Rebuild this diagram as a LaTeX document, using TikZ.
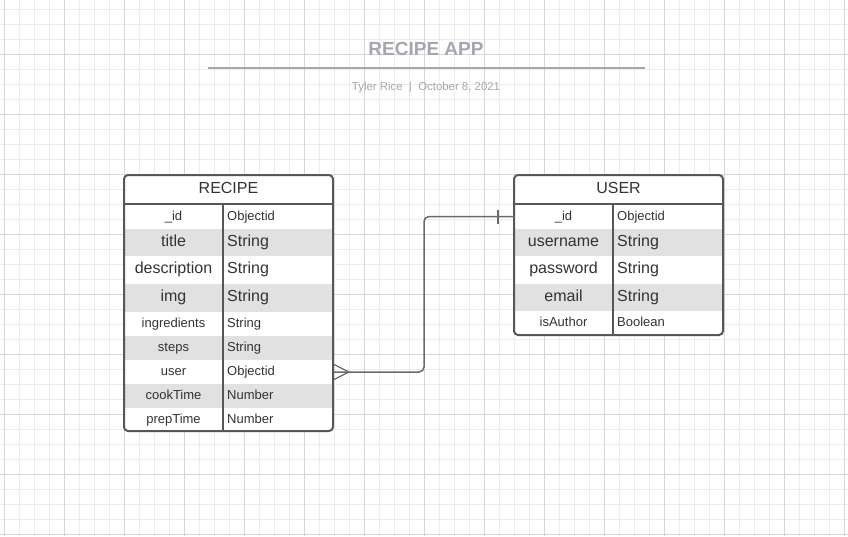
\documentclass[tikz,border=0pt]{standalone}
\usepackage{fontspec}
\setmainfont{Liberation Sans}
\usetikzlibrary{positioning, calc}
\definecolor{gridminor}{HTML}{ECECEC}
\definecolor{gridmajor}{HTML}{D6D6D6}
\definecolor{rowgray}{HTML}{E1E1E1}
\definecolor{tblborder}{HTML}{575757}
\definecolor{tbltext}{HTML}{333333}
\definecolor{headgray}{HTML}{A3A7B0}
\definecolor{conngray}{HTML}{6A6A6A}

\begin{document}
\begin{tikzpicture}[x=1pt, y=-1pt,
  tbl/.style={draw=tblborder, line width=2pt, rounded corners=4pt},
  tblline/.style={draw=tblborder, line width=2pt},
  rowcell/.style={draw=none, inner sep=0pt, outer sep=0pt},
  fieldtext/.style={text=tbltext, inner sep=0pt, text height=.72em, text depth=0pt},
  conn/.style={draw=conngray, line width=1.5pt},
  crow/.style={draw=conngray, line width=1.2pt}]
\useasboundingbox (0,0) rectangle (848,536);
\fill[white] (0,0) rectangle (848,536);

% grid
\foreach \x in {4,19,...,844} \draw[gridminor, line width=.8pt] (\x,0) -- (\x,536);
\foreach \y in {9,24,...,534} \draw[gridminor, line width=.8pt] (0,\y) -- (848,\y);
\foreach \x in {4,64,...,844} \draw[gridmajor, line width=.8pt] (\x,0) -- (\x,536);
\foreach \y in {54,114,...,534} \draw[gridmajor, line width=.8pt] (0,\y) -- (848,\y);

% heading
\node[text=headgray, font={\fontsize{19}{22}\selectfont\bfseries}] (title) at (426,49) {RECIPE APP};
\draw[draw=headgray, line width=1.5pt] (208,68) -- (645,68);
\node[text=headgray, font={\fontsize{11.4}{13}\selectfont}] (byline) at (426,87.5) {Tyler Rice \ | \ October 8, 2021};

% recipe table
\fill[white] (124,175) rectangle (333,204);
\foreach \fname/\ftype/\ya/\yb/\shade/\sz [count=\i] in {
  \_id/Objectid/204/229/white/13,
  title/String/229/256/rowgray/16,
  description/String/256/284/white/16,
  img/String/284/312/rowgray/16,
  ingredients/String/312/336/white/13,
  steps/String/336/360/rowgray/13,
  user/Objectid/360/384/white/13,
  cookTime/Number/384/408/rowgray/13,
  prepTime/Number/408/431/white/13}{
  \pgfmathsetmacro\ym{(\ya+\yb)/2}
  \pgfmathsetmacro\hh{\yb-\ya}
  \node[rowcell, fill=\shade, minimum width=209pt, minimum height=\hh pt] (recipe-\i) at (228.5,\ym) {};
  \node[fieldtext, font={\fontsize{\sz}{\sz}\selectfont}] (recipe-\i-name) at (173.5,\ym) {\fname};
  \node[fieldtext, anchor=west, font={\fontsize{\sz}{\sz}\selectfont}] (recipe-\i-type) at (227,\ym) {\ftype};
}
\node[fieldtext, font={\fontsize{16}{16}\selectfont}] (recipe-head) at (228.5,189.5) {RECIPE};
\draw[tbl] (124,175) rectangle (333,431);
\draw[tblline] (124,204) -- (333,204);
\draw[tblline] (223,204) -- (223,431);

% user table
\fill[white] (514,175) rectangle (723,204);
\foreach \fname/\ftype/\ya/\yb/\shade/\sz [count=\i] in {
  \_id/Objectid/204/229/white/13,
  username/String/229/256/rowgray/16,
  password/String/256/284/white/16,
  email/String/284/311/rowgray/16,
  isAuthor/Boolean/311/335/white/13}{
  \pgfmathsetmacro\ym{(\ya+\yb)/2}
  \pgfmathsetmacro\hh{\yb-\ya}
  \node[rowcell, fill=\shade, minimum width=209pt, minimum height=\hh pt] (user-\i) at (618.5,\ym) {};
  \node[fieldtext, font={\fontsize{\sz}{\sz}\selectfont}] (user-\i-name) at (563.5,\ym) {\fname};
  \node[fieldtext, anchor=west, font={\fontsize{\sz}{\sz}\selectfont}] (user-\i-type) at (617,\ym) {\ftype};
}
\node[fieldtext, font={\fontsize{16}{16}\selectfont}] (user-head) at (618.5,189.5) {USER};
\draw[tbl] (514,175) rectangle (723,335);
\draw[tblline] (514,204) -- (723,204);
\draw[tblline] (613,204) -- (613,335);

% relation recipe.user -> user._id
\coordinate (bend) at (424,0);
\draw[conn, rounded corners=5pt] (recipe-7.east) -| (bend |- user-1.west) -- (user-1.west);
\draw[crow] ($(recipe-7.east)+(1,-7.5)$) -- ++(15,7.5) -- ++(-15,7.5);
\draw[crow] ($(user-1.west)+(-16,-7)$) -- ++(0,14);
\end{tikzpicture}
\end{document}
